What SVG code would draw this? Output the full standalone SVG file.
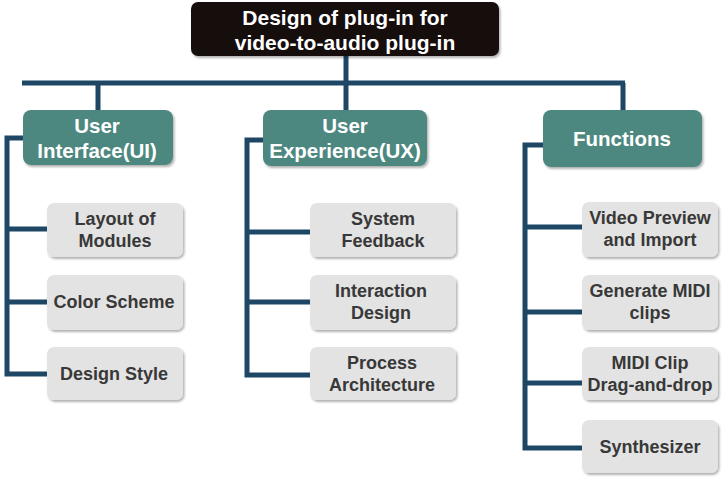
<svg xmlns="http://www.w3.org/2000/svg" width="723" height="477" viewBox="0 0 723 477">
<defs>
<filter id="sh" x="-10%" y="-10%" width="130%" height="140%">
<feDropShadow dx="1.5" dy="2" stdDeviation="1.2" flood-color="#000" flood-opacity="0.3"/>
</filter>
<style>
.ln{stroke:#1e4766;stroke-width:5;fill:none;stroke-linecap:butt}
.top{fill:#150d09}
.cat{fill:#4e8880}
.leaf{fill:#e3e3e3}
.tt{font-family:"Liberation Sans",Arial,sans-serif;font-weight:bold;font-size:21px;fill:#fff;text-anchor:middle}
.ct{font-family:"Liberation Sans",Arial,sans-serif;font-weight:bold;font-size:20.5px;fill:#fff;text-anchor:middle}
.lt{font-family:"Liberation Sans",Arial,sans-serif;font-weight:bold;font-size:18px;fill:#383838;text-anchor:middle}
</style>
</defs>
<rect width="723" height="477" fill="#fff"/>
<g id="connectors">
<path class="ln" d="M346 56 V112 M22 83 H625 M98 83 V112 M623 83 V112"/>
<path class="ln" d="M25 138 H7 V374 H48 M7 229 H48 M7 302 H48"/>
<path class="ln" d="M265 140 H247 V375 H311 M247 232 H311 M247 302 H311"/>
<path class="ln" d="M545 145 H525 V448 H583 M525 227 H583 M525 312 H583 M525 383 H583"/>
</g>
<g id="root">
<rect class="top" x="191" y="2" width="308" height="54" rx="7" filter="url(#sh)"/>
<text class="tt" x="345" y="25">Design of plug-in for</text>
<text class="tt" x="345" y="50">video-to-audio plug-in</text>
</g>
<g id="ui">
<rect class="cat" x="23" y="110" width="150" height="55" rx="8" filter="url(#sh)"/>
<text class="ct" x="97" y="133">User</text>
<text class="ct" x="97" y="158">Interface(UI)</text>
</g>
<g id="ux">
<rect class="cat" x="263" y="110" width="164" height="56" rx="8" filter="url(#sh)"/>
<text class="ct" x="345" y="133">User</text>
<text class="ct" x="345" y="158">Experience(UX)</text>
</g>
<g id="functions">
<rect class="cat" x="543" y="110" width="159" height="57" rx="8" filter="url(#sh)"/>
<text class="ct" x="622" y="146">Functions</text>
</g>
<g id="layout">
<rect class="leaf" x="47" y="203" width="136" height="54" rx="7" filter="url(#sh)"/>
<text class="lt" x="115" y="225">Layout of</text>
<text class="lt" x="115" y="247">Modules</text>
</g>
<g id="color">
<rect class="leaf" x="47" y="275" width="136" height="55" rx="7" filter="url(#sh)"/>
<text class="lt" x="114" y="308">Color Scheme</text>
</g>
<g id="style">
<rect class="leaf" x="47" y="347" width="136" height="53" rx="7" filter="url(#sh)"/>
<text class="lt" x="114" y="380">Design Style</text>
</g>
<g id="feedback">
<rect class="leaf" x="310" y="203" width="146" height="54" rx="7" filter="url(#sh)"/>
<text class="lt" x="383" y="225">System</text>
<text class="lt" x="383" y="247">Feedback</text>
</g>
<g id="interaction">
<rect class="leaf" x="310" y="275" width="146" height="55" rx="7" filter="url(#sh)"/>
<text class="lt" x="381" y="297">Interaction</text>
<text class="lt" x="381" y="319">Design</text>
</g>
<g id="process">
<rect class="leaf" x="310" y="347" width="146" height="53" rx="7" filter="url(#sh)"/>
<text class="lt" x="382" y="369">Process</text>
<text class="lt" x="382" y="391">Architecture</text>
</g>
<g id="preview">
<rect class="leaf" x="582" y="202" width="136" height="55" rx="7" filter="url(#sh)"/>
<text class="lt" x="650" y="224">Video Preview</text>
<text class="lt" x="650" y="246">and Import</text>
</g>
<g id="generate">
<rect class="leaf" x="582" y="275" width="136" height="55" rx="7" filter="url(#sh)"/>
<text class="lt" x="650" y="297">Generate MIDI</text>
<text class="lt" x="650" y="319">clips</text>
</g>
<g id="dragdrop">
<rect class="leaf" x="582" y="347" width="136" height="53" rx="7" filter="url(#sh)"/>
<text class="lt" x="650" y="369">MIDI Clip</text>
<text class="lt" x="650" y="391">Drag-and-drop</text>
</g>
<g id="synth">
<rect class="leaf" x="582" y="420" width="136" height="53" rx="7" filter="url(#sh)"/>
<text class="lt" x="650" y="453">Synthesizer</text>
</g>
</svg>
